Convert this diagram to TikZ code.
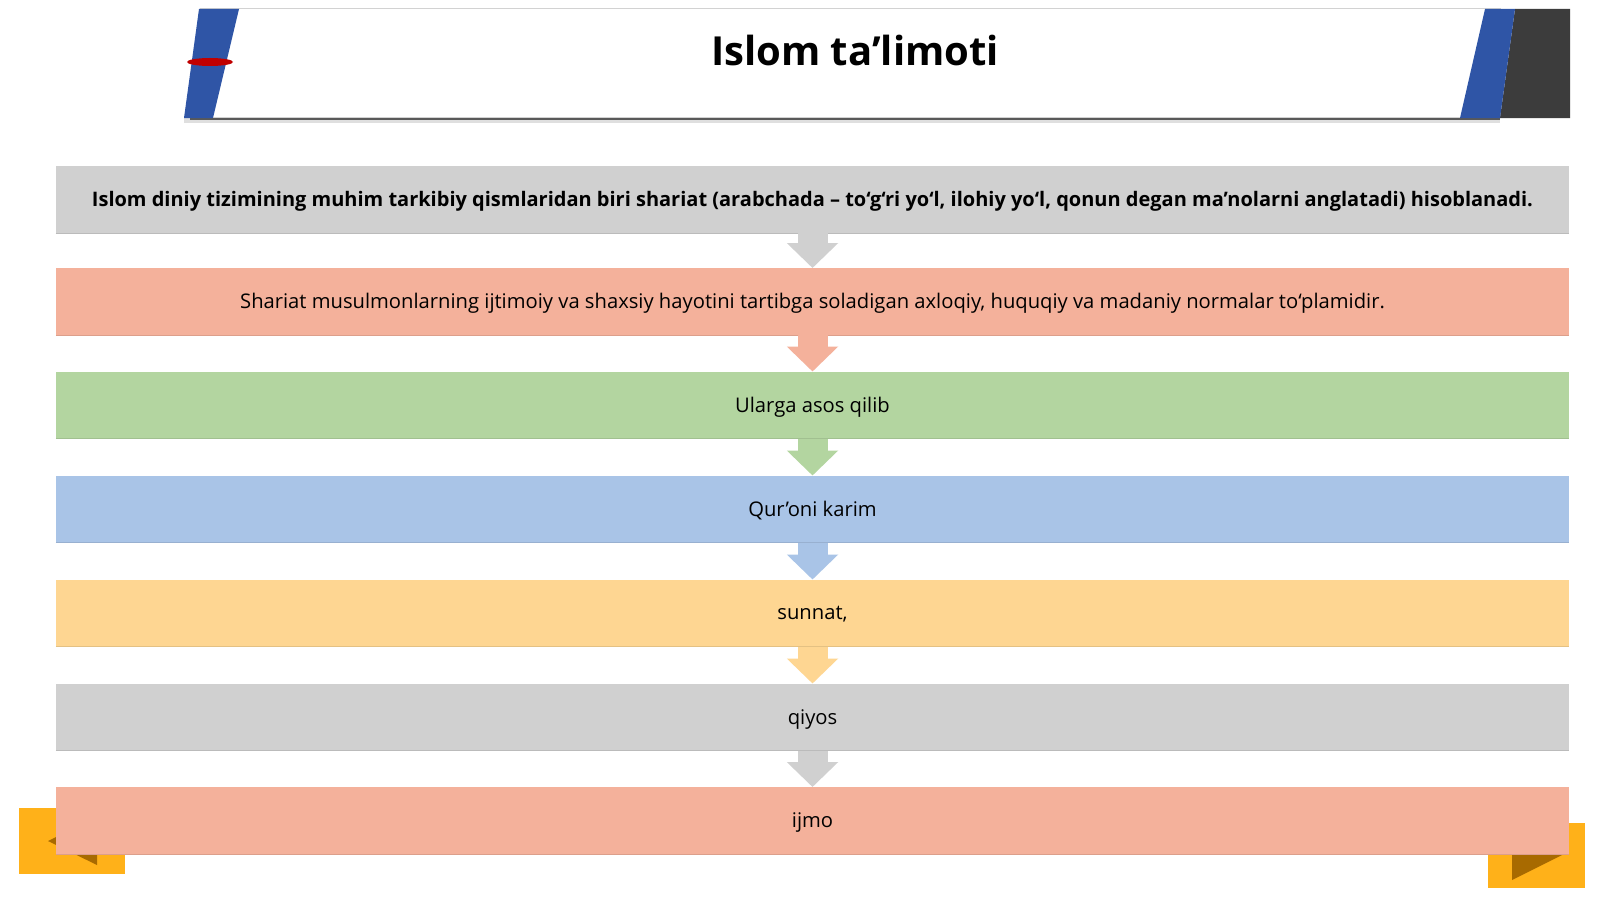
\documentclass[tikz,border=0pt]{standalone}
\usepackage{fontspec}
\setmainfont{Open Sans}
\usetikzlibrary{arrows.meta,calc}
\definecolor{cgray}{HTML}{D0D0D0}
\definecolor{csalmon}{HTML}{F4B19B}
\definecolor{cgreen}{HTML}{B3D5A0}
\definecolor{cblue}{HTML}{A9C4E7}
\definecolor{cyellow}{HTML}{FED692}
\definecolor{corange}{HTML}{FFB119}
\definecolor{cbrown}{HTML}{A86A00}
\definecolor{hblue}{HTML}{2F55A6}
\definecolor{hdark}{HTML}{3C3C3C}
\definecolor{hred}{HTML}{C00000}
\tikzset{
  rowbox/.style={minimum width=1513pt, minimum height=67pt, inner sep=0pt, text=black,
    font=\fontsize{20.2}{24}\selectfont, anchor=north, text depth=1pt},
  flowarrow/.style={line width=30pt, -{Triangle[width=50pt,length=25pt]}},
  titletext/.style={font=\fontsize{40}{46}\selectfont\bfseries, text=black}
}
\begin{document}
\begin{tikzpicture}[x=1pt,y=-1pt]
\useasboundingbox[fill=white] (0,0) rectangle (1600,899);
% header
\fill[gray!25] (184,118) rectangle (1500,123);
\fill[hdark!85] (190,117) rectangle (1500,120);
\fill[white, draw=gray!35, line width=0.6pt] (200,8) rectangle (1500,117);
\fill[hdark] (1515,9) -- (1570,9) -- (1570,118) -- (1500,118) -- cycle;
\fill[hblue] (199,9) -- (239,9) -- (213,118) -- (184,118) -- cycle;
\fill[hblue] (1485,9) -- (1515,9) -- (1500,118) -- (1460,118) -- cycle;
\fill[hred] (210,62) ellipse [x radius=23, y radius=4];
\node[titletext] (title) at (855,51) {Islom ta’limoti};
% corner buttons
\fill[corange] (19,808) rectangle (125,874);
\fill[cbrown] (48,841) -- (97,817) -- (97,865) -- cycle;
\fill[corange] (1488,823) rectangle (1585,888);
\fill[cbrown] (1512,830) -- (1562,855) -- (1512,880) -- cycle;
% rows
\node[rowbox, fill=cgray, font=\fontsize{20}{24}\selectfont\bfseries] (b1) at (812.5,166) {Islom diniy tizimining muhim tarkibiy qismlaridan biri shariat (arabchada – to‘g‘ri yo‘l, ilohiy yo‘l, qonun degan ma’nolarni anglatadi) hisoblanadi.};
\node[rowbox, fill=csalmon] (b2) at (812.5,268) {Shariat musulmonlarning ijtimoiy va shaxsiy hayotini tartibga soladigan axloqiy, huquqiy va madaniy normalar to‘plamidir.};
\node[rowbox, fill=cgreen] (b3) at (812.5,371.5) {Ularga asos qilib};
\node[rowbox, fill=cblue] (b4) at (812.5,475.5) {Qur’oni karim};
\node[rowbox, fill=cyellow] (b5) at (812.5,579.5) {sunnat,};
\node[rowbox, fill=cgray] (b6) at (812.5,683.5) {qiyos};
\node[rowbox, fill=csalmon] (b7) at (812.5,787) {ijmo};
% bottom edge shading
\foreach \b/\c in {b1/cgray,b2/csalmon,b3/cgreen,b4/cblue,b5/cyellow,b6/cgray,b7/csalmon}{
  \draw[\c!90!black, line width=0.7pt] ($(\b.south west)+(0,-0.4)$) -- ($(\b.south east)+(0,-0.4)$);
}
% arrows
\draw[flowarrow, cgray] (b1.south) -- (b2.north);
\draw[flowarrow, csalmon] (b2.south) -- (b3.north);
\draw[flowarrow, cgreen] (b3.south) -- (b4.north);
\draw[flowarrow, cblue] (b4.south) -- (b5.north);
\draw[flowarrow, cyellow] (b5.south) -- (b6.north);
\draw[flowarrow, cgray] (b6.south) -- (b7.north);
\end{tikzpicture}
\end{document}
